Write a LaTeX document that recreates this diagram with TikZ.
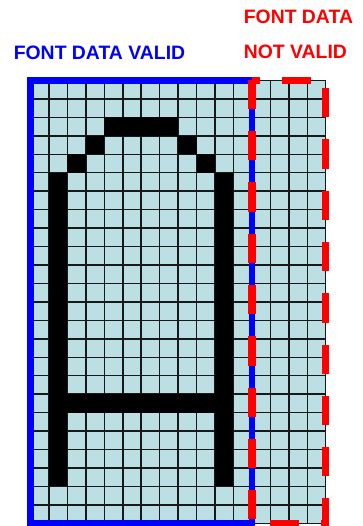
\documentclass[tikz,border=0pt]{standalone}
\usepackage{fontspec}
\setmainfont{Liberation Sans}
\usepackage{xcolor}
\usetikzlibrary{positioning}
\definecolor{cellcyan}{RGB}{187,223,226}
\tikzset{
  % Label styles
  validlabel/.style={anchor=base west, inner sep=0pt, text=blue, font=\fontsize{19.4}{22}\selectfont\bfseries},
  invalidlabel/.style={validlabel, text=red},
  % Glyph grid styles
  cellarea/.style={fill=cellcyan},
  gridline/.style={draw=black!90, line width=1.5pt},
  pixel/.style={fill=black},
  % Border styles
  validbox/.style={draw=blue, line width=6.5pt},
  invalidbox/.style={draw=red, line width=7.5pt, dash pattern=on 29.3pt off 22pt, dash phase=21.3pt},
}

\begin{document}
\begin{tikzpicture}[x=1pt, y=-1pt]
    \useasboundingbox (0,0) rectangle (362,526);

    % Labels
    \node[validlabel] (valid) at (13.6,60) {FONT DATA VALID};
    \node[invalidlabel] (fontdata) at (243.6,23.5) {FONT DATA};
    \node[invalidlabel] (notvalid) at ([yshift=-35pt]fontdata.base west) {NOT VALID};

    % Glyph grid, 16 x 24 cells
    \begin{scope}[shift={(30.5,80.5)}, x=18.45pt, y=-18.45pt]
      \fill[cellarea] (0,0) rectangle (16,24);
      \foreach \c in {0,...,16}
        \draw[gridline] (\c,0) -- (\c,24);
      \foreach \r in {0,...,24}
        \draw[gridline] (0,\r) -- (16,\r);

      % Letter A
      \fill[pixel] (4,2) rectangle (8,3);
      \fill[pixel] (3,3) rectangle (4,4);
      \fill[pixel] (8,3) rectangle (9,4);
      \fill[pixel] (2,4) rectangle (3,5);
      \fill[pixel] (9,4) rectangle (10,5);
      \fill[pixel] (1,5) rectangle (2,22);
      \fill[pixel] (10,5) rectangle (11,22);
      \fill[pixel] (1,17) rectangle (11,18);

      % Corners
      \coordinate (gridtl) at (0,0);
      \coordinate (splittop) at (12,0);
      \coordinate (gridtr) at (16,0);
      \coordinate (gridbr) at (16,24);
      \coordinate (splitbot) at (12,24);
      \coordinate (gridbl) at (0,24);
    \end{scope}

    % Borders
    \draw[validbox] (gridtl) -- (splittop) -- (splitbot) -- (gridbl) -- cycle;
    \draw[invalidbox] (splittop) -- (gridtr) -- (gridbr) -- (splitbot) -- cycle;
\end{tikzpicture}
\end{document}
